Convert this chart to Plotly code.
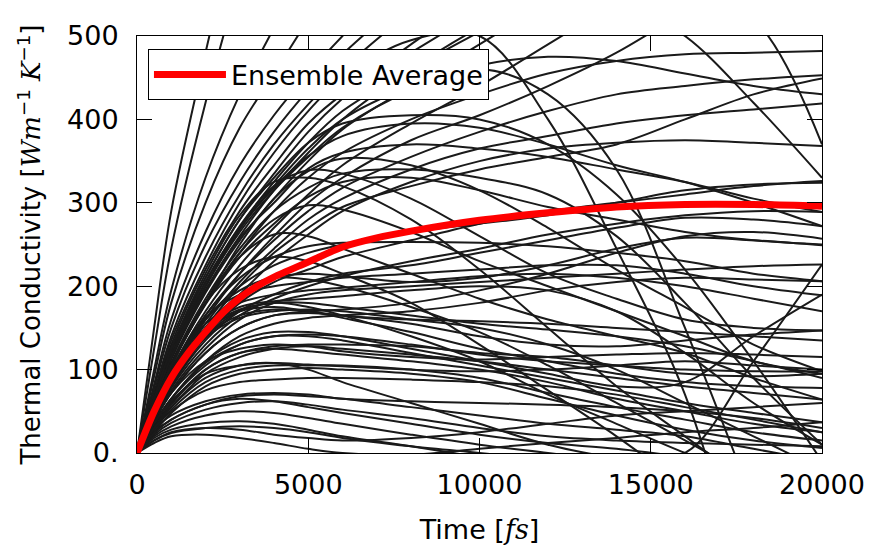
import plotly.graph_objects as go

N = None
time_fs = [0, 500, 1000, 2000, 3000, 4000, 5000, 6000, 8000, 10000, 12000, 14000, 16000, 18000, 20000]

ensemble_time = [0, 500, 1000, 1500, 2000, 2500, 3000, 3500, 4000, 5000, 6000, 7000, 8000, 10000, 12000, 14000, 16000, 18000, 20000]
ensemble_average = [0, 50, 90, 120, 145, 168, 186, 200, 211, 229, 247, 258, 266, 279, 288, 295, 298, 298, 296]

runs_steep = [
    [0, 150, 290, 480, 650, N, N, N, N, N, N, N, N, N, N],
    [0, 125, 245, 420, 570, N, N, N, N, N, N, N, N, N, N],
    [0, 100, 195, 330, 430, 510, 590, N, N, N, N, N, N, N, N],
    [0, 92, 180, 300, 390, 455, 520, N, N, N, N, N, N, N, N],
    [0, 82, 160, 265, 345, 405, 455, 500, 580, N, N, N, N, N, N],
    [0, 78, 150, 250, 325, 385, 435, 478, 550, N, N, N, N, N, N],
    [0, 72, 140, 235, 310, 370, 418, 460, 530, N, N, N, N, N, N],
    [0, 68, 130, 220, 290, 345, 395, 430, 480, 530, N, N, N, N, N],
    [0, 62, 120, 205, 272, 325, 372, 410, 460, 505, N, N, N, N, N],
    [0, 58, 112, 192, 255, 305, 350, 388, 440, 490, 540, N, N, N, N],
    [0, 55, 100, 170, 225, 270, 310, 345, 395, 440, 490, 540, N, N, N],
    [0, 50, 95, 160, 215, 260, 300, 330, 375, 405, 440, 480, 530, N, N],
]

runs_high = [
    [0, 55, 105, 180, 240, 290, 330, 360, 400, 430, 455, 470, 478, 480, 482],
    [0, 52, 100, 165, 215, 255, 290, 318, 355, 385, 410, 430, 440, 448, 453],
    [0, 45, 88, 150, 200, 240, 270, 295, 320, 340, 355, 370, 400, 430, 449],
    [0, 48, 92, 155, 205, 245, 280, 305, 340, 365, 380, 395, 405, 412, 419],
    [0, 45, 85, 145, 190, 230, 262, 290, 325, 350, 365, 372, 375, 372, 368],
    [0, 70, 135, 225, 300, 360, 410, 450, 495, 500, 400, 245, 70, -200, N],
    [0, 60, 115, 195, 260, 315, 360, 400, 460, 510, 545, 560, 550, 520, 370],
    [0, 65, 125, 210, 280, 335, 385, 425, 490, 540, 560, 545, 500, 420, 330],
    [0, 62, 120, 200, 265, 315, 355, 390, 435, 460, 430, 340, 150, -60, N],
    [0, 65, 125, 210, 280, 330, 372, 395, 405, 400, 370, 310, 220, 110, -10],
    [0, 62, 120, 205, 270, 318, 356, 380, 395, 390, 370, 345, 325, 300, 272],
    [0, 60, 115, 195, 258, 300, 341, 360, 370, 365, 355, 340, 325, 305, 289],
    [0, 56, 108, 185, 245, 290, 318, 335, 340, 330, 310, 260, 180, 90, 10],
    [0, 54, 104, 178, 235, 275, 307, 325, 330, 315, 295, 280, 265, 255, 250],
    [0, 63, 120, 200, 268, 320, 365, 400, 440, 465, 475, 470, 455, 440, 430],
]

runs_middle = [
    [0, 55, 105, 180, 250, 305, 338, 353, 345, 315, 270, 220, 175, 130, 98],
    [0, 60, 115, 200, 270, 320, 339, 335, 305, 260, 215, 185, 160, 150, 147],
    [0, 55, 105, 180, 240, 280, 297, 292, 265, 230, 200, 170, 140, 110, 95],
    [0, 55, 105, 180, 235, 262, 260, 245, 215, 185, 160, 140, 120, 90, 64],
    [0, 65, 125, 215, 285, 325, 330, 320, 280, 220, 150, 80, 20, -40, N],
    [0, 50, 95, 165, 210, 235, 248, 252, 253, 252, 248, 240, 230, 215, 206],
    [0, 45, 85, 140, 180, 205, 220, 235, 255, 275, 290, 300, 310, 320, 326],
    [0, 50, 95, 160, 200, 225, 240, 250, 265, 275, 285, 300, 315, 322, 324],
    [0, 40, 78, 130, 165, 185, 200, 212, 230, 245, 262, 275, 285, 290, 289],
    [0, 42, 80, 135, 170, 190, 205, 215, 225, 240, 255, 270, 282, 280, 272],
    [0, 38, 72, 120, 150, 165, 170, 172, 180, 195, 215, 240, 260, 265, 257],
    [0, 45, 88, 150, 190, 210, 215, 212, 205, 210, 225, 245, 258, 255, 249],
    [0, 40, 75, 125, 160, 180, 190, 195, 200, 205, 210, 215, 220, 224, 226],
    [0, 35, 65, 110, 140, 155, 162, 165, 170, 180, 195, 205, 210, 208, 206],
    [0, 45, 85, 145, 170, 175, 170, 165, 160, 158, 155, 150, 145, 140, 135],
    [0, 48, 90, 150, 175, 182, 185, 188, 195, 200, 195, 170, 120, 60, 10],
    [0, 42, 80, 138, 162, 170, 172, 170, 160, 150, 130, 100, 60, 20, -20],
    [0, 50, 95, 155, 180, 190, 195, 198, 205, 212, 215, 210, 200, 185, 170],
    [0, 46, 88, 148, 172, 180, 180, 175, 165, 155, 148, 140, 128, 110, 90],
    [0, 44, 82, 140, 165, 172, 170, 162, 145, 125, 110, 95, 85, 80, 78],
    [0, 52, 98, 162, 190, 200, 205, 210, 215, 220, 225, 225, 215, 200, 189],
    [0, 55, 105, 180, 220, 235, 230, 215, 180, 130, 75, 20, -40, N, N],
    [0, 50, 95, 160, 195, 210, 208, 200, 175, 145, 105, 60, 15, -30, N],
    [0, 45, 85, 140, 170, 180, 175, 165, 140, 110, 70, 35, 0, -30, N],
]

runs_lower = [
    [0, 38, 72, 120, 150, 165, 168, 165, 155, 140, 130, 128, 135, 142, 147],
    [0, 35, 65, 105, 130, 140, 142, 140, 130, 118, 110, 105, 100, 98, 98],
    [0, 32, 60, 100, 120, 128, 130, 130, 128, 120, 115, 105, 95, 92, 95],
    [0, 30, 55, 95, 115, 125, 128, 125, 118, 110, 100, 90, 80, 72, 64],
    [0, 35, 65, 108, 130, 140, 140, 135, 120, 105, 90, 75, 60, 48, 37],
    [0, 30, 58, 100, 120, 125, 122, 118, 110, 100, 85, 65, 50, 35, 25],
    [0, 28, 52, 85, 100, 105, 105, 105, 100, 90, 72, 55, 40, 25, 15],
    [0, 25, 48, 80, 95, 100, 102, 100, 95, 85, 65, 45, 28, 15, 6],
    [0, 30, 55, 90, 105, 108, 100, 85, 60, 35, 10, -5, 0, 110, 226],
    [0, 35, 65, 110, 135, 145, 145, 140, 125, 110, 95, 80, 85, 140, 190],
    [0, 25, 40, 58, 65, 62, 55, 48, 35, 22, 12, 5, -5, N, N],
    [0, 22, 36, 52, 60, 62, 58, 52, 42, 30, 20, 15, 12, 10, 8],
    [0, 20, 32, 45, 50, 48, 42, 35, 22, 10, 0, -10, N, N, N],
    [0, 18, 28, 36, 38, 35, 28, 20, 8, -5, N, N, N, N, N],
    [0, 15, 24, 30, 32, 30, 25, 18, 8, 0, -8, N, N, N, N],
    [0, 28, 45, 62, 70, 72, 70, 65, 62, 60, 58, 55, 50, 42, 30],
    [0, 24, 40, 58, 68, 70, 68, 65, 55, 45, 35, 28, 20, 5, -10],
    [0, 30, 50, 75, 85, 88, 90, 90, 88, 85, 80, 70, 55, 40, 25],
    [0, 36, 62, 95, 105, 108, 106, 104, 100, 98, 100, 105, 110, 105, 100],
    [0, 40, 72, 110, 125, 130, 128, 122, 115, 112, 115, 118, 120, 118, 115],
    [0, 15, 25, 30, 28, 22, 18, 15, 18, 25, 35, 45, 50, 55, 60],
    [0, 12, 20, 22, 18, 12, 5, 0, -2, 5, 12, 18, 25, 30, 37],
]

y_ticks = [0, 100, 200, 300, 400, 500]
y_tick_labels = ["0.", "100", "200", "300", "400", "500"]
x_ticks = [0, 5000, 10000, 15000, 20000]
x_tick_labels = ["0", "5000", "10000", "15000", "20000"]

fig = go.Figure()
for group in (runs_steep, runs_high, runs_middle, runs_lower):
    for run in group:
        fig.add_trace(go.Scatter(
            x=time_fs, y=run, mode="lines",
            line=dict(color="#1a1a1a", width=2, shape="spline", smoothing=1.0),
            showlegend=False, hoverinfo="skip", connectgaps=False,
        ))

fig.add_trace(go.Scatter(
    x=ensemble_time, y=ensemble_average, mode="lines", name="Ensemble Average",
    line=dict(color="#ff0000", width=7, shape="spline", smoothing=0.8),
))

font = "DejaVu Sans, sans-serif"
math = "<span style='font-family:DejaVu Serif'><i>{}</i></span>"
ytitle = ("Thermal Conductivity [" + math.format("Wm") + "<sup>−1</sup> "
          + math.format("K") + "<sup>−1</sup>]")
xtitle = "Time [" + math.format("fs") + "]"

axis_common = dict(
    showgrid=False, zeroline=False, showline=True, linecolor="black", linewidth=1,
    mirror="ticks", ticks="inside", ticklen=15, tickwidth=1.2, tickcolor="black",
    tickfont=dict(family=font, size=27, color="black"),
    ticklabeloverflow="allow",
)

# the page adds an 8px body margin, so the figure is sized to fit the window
fig.update_layout(
    width=869, height=543,
    margin=dict(l=129, r=50, t=15, b=96),
    paper_bgcolor="white", plot_bgcolor="white",
    font=dict(family=font, color="black"),
    xaxis=dict(range=[0, 20000], tickvals=x_ticks, ticktext=x_tick_labels,
               ticklabelstandoff=8,
               title=dict(text=xtitle, font=dict(family=font, size=27), standoff=20),
               **axis_common),
    yaxis=dict(range=[0, 500], tickvals=y_ticks, ticktext=y_tick_labels,
               ticklabelstandoff=12,
               title=dict(text=ytitle, font=dict(family=font, size=26), standoff=18),
               **axis_common),
    legend=dict(x=0.016, y=0.968, xanchor="left", yanchor="top",
                bgcolor="white", bordercolor="black", borderwidth=1,
                font=dict(family=font, size=27, color="black"),
                itemwidth=72),
    showlegend=True,
)

fig.write_html("out.html")
